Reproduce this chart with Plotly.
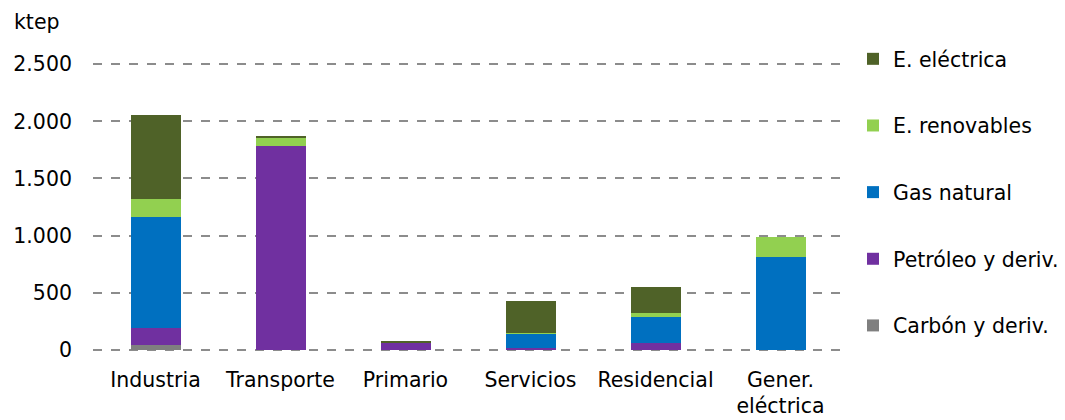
import plotly.graph_objects as go

categories = ["Industria", "Transporte", "Primario", "Servicios", "Residencial", "Gener.<br>eléctrica"]

carbon = [44, 0, 0, 0, 0, 0]
petroleo = [148, 1786, 64, 15, 58, 0]
gas = [973, 0, 0, 125, 228, 810]
renovables = [152, 70, 0, 5, 40, 173]
electrica = [743, 10, 8, 283, 224, 0]

series = [
    ("Carbón y deriv.", carbon, "#7F7F7F"),
    ("Petróleo y deriv.", petroleo, "#7030A0"),
    ("Gas natural", gas, "#0070C0"),
    ("E. renovables", renovables, "#92D050"),
    ("E. eléctrica", electrica, "#4F6228"),
]

FONT = "DejaVu Sans"
FS = 20.5

fig = go.Figure()
for i, (name, vals, col) in enumerate(series):
    fig.add_trace(go.Bar(
        x=categories, y=vals, name=name,
        marker=dict(color=col, line=dict(width=0)),
        width=0.4, legendgroup=f"g{i}", legendrank=100 - i,
    ))

# page shows the figure offset by the body margin (8px)
W, H = 1057, 412
L, R, T, B = 85, 222, 54, 68
pw = W - L - R
ph = H - T - B

fig.update_layout(
    width=W, height=H,
    margin=dict(l=L, r=R, t=T, b=B, autoexpand=False),
    barmode="stack",
    plot_bgcolor="white", paper_bgcolor="white",
    font=dict(family=FONT, size=FS, color="#000000"),
    showlegend=True,
    legend=dict(
        traceorder="grouped",
        tracegroupgap=37,
        xref="container", yref="container",
        x=845 / W, xanchor="left",
        y=1 - 31 / H, yanchor="top",
        maxheight=400,
        font=dict(family=FONT, size=FS, color="#000000"),
        itemwidth=30,
        bgcolor="rgba(0,0,0,0)",
    ),
    xaxis=dict(
        showgrid=False, showline=False, zeroline=False,
        ticks="", tickfont=dict(family=FONT, size=FS),
        ticklabelstandoff=13,
    ),
    yaxis=dict(
        range=[-20, 2520], tickvals=[0, 500, 1000, 1500, 2000, 2500],
        ticktext=["0", "500", "1.000", "1.500", "2.000", "2.500"],
        showgrid=True, gridcolor="#8C8C8C", griddash="dash", gridwidth=1.5,
        zeroline=False, showline=False, ticks="",
        tickfont=dict(family=FONT, size=FS),
        ticklabelstandoff=20,
    ),
    annotations=[dict(
        text="ktep", xref="paper", yref="paper",
        x=(4 - L) / pw, y=1 + (T - 14) / ph,
        xanchor="left", yanchor="middle", showarrow=False,
        font=dict(family=FONT, size=FS, color="#000000"),
    )],
)

fig.write_html("out.html")
